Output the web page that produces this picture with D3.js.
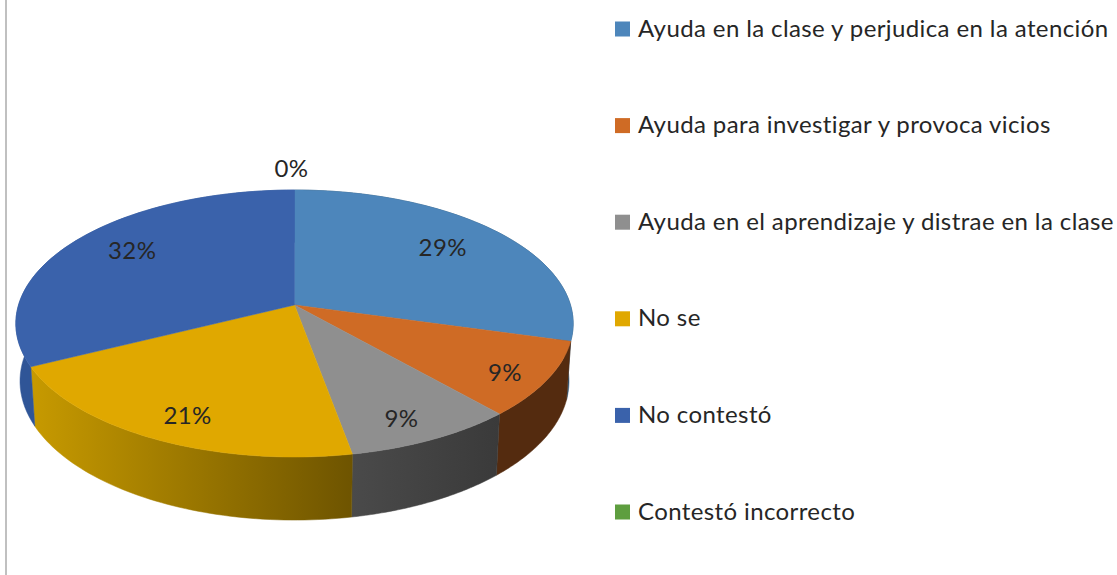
<!DOCTYPE html>
<html><head><meta charset="utf-8">
<script src="https://cdn.jsdelivr.net/npm/d3@7"></script>
<style>html,body{margin:0;padding:0;background:#fff;overflow:hidden}text{font-family:Lato,"Open Sans",sans-serif;fill:#262626;letter-spacing:.39px}</style>
</head><body><svg id="c" width="1117" height="575"></svg>
<script>
const categories=["Ayuda en la clase y perjudica en la atención","Ayuda para investigar y provoca vicios","Ayuda en el aprendizaje y distrae en la clase","No se","No contestó","Contestó incorrecto"];
const values=[29.3,9.1,8.7,20.6,32.3,0];
const colors=["#4D86BB","#CF6B25","#8F8F8F","#E0A800","#3A62AB","#5E9E3F"];
const sideFrom=["#2E5270","#542B0F","#4A4A4A","#C79A00","#2F5597","#39602A"];
const sideTo=["#2E5270","#542B0F","#3A3A3A","#6E5400","#2F5597","#39602A"];
// label placement: radial fraction and pixel nudge
const labelR=[.7,.85,.82,.82,.72,1.2];
const labelDx=[3,-2,-4,6,-2,-3], labelDy=[-6,4,5,3,-8,-3];

const svg=d3.select("#c");
const cx=294.5,a=276,k=-0.1386;
const topRim={d:305,b:88.67,a:a}, botRim={d:361.9,b:86.1,a:a*.985};
function proj(p,th,r=1){const u=r*Math.sin(th),v=-r*Math.cos(th),den=1+k*v;return [cx+p.a*u/den,(p.d+p.b*v)/den];}
const pie=d3.pie().sort(null).value(d=>d)(values);
const line=d3.line();
const samples=(s)=>d3.range(0,61).map(i=>s.startAngle+(s.endAngle-s.startAngle)*i/60);

svg.append("line").attr("x1",6).attr("x2",6).attr("y1",0).attr("y2",575).attr("stroke","#ababab").attr("stroke-width",1.5);

const defs=svg.append("defs");
pie.forEach((s,i)=>{
  if(s.endAngle-s.startAngle<=0) return;
  const xs=samples(s).map(t=>proj(topRim,t)[0]);
  const g=defs.append("linearGradient").attr("id","g"+i).attr("gradientUnits","userSpaceOnUse")
    .attr("x1",d3.min(xs)).attr("x2",d3.max(xs)).attr("y1",0).attr("y2",0);
  g.append("stop").attr("offset",0).attr("stop-color",sideFrom[i]);
  g.append("stop").attr("offset",1).attr("stop-color",sideTo[i]);
  const ts=samples(s);
  const pts=ts.map(t=>proj(topRim,t)).concat(ts.slice().reverse().map(t=>proj(botRim,t)));
  svg.append("path").attr("d",line(pts)+"Z").attr("fill","url(#g"+i+")").attr("stroke","url(#g"+i+")").attr("stroke-width",.5);
});
pie.forEach((s,i)=>{
  if(s.endAngle-s.startAngle<=0) return;
  const pts=[proj(topRim,s.startAngle,0)].concat(samples(s).map(t=>proj(topRim,t)));
  svg.append("path").attr("d",line(pts)+"Z").attr("fill",colors[i]).attr("stroke",colors[i]).attr("stroke-width",.5);
});
const total=d3.sum(values);
pie.forEach((s,i)=>{
  const p=proj(topRim,(s.startAngle+s.endAngle)/2,labelR[i]);
  svg.append("text").attr("x",p[0]+labelDx[i]).attr("y",p[1]+labelDy[i]).attr("text-anchor","middle").attr("dominant-baseline","central")
   .attr("font-size",24).text(Math.round(values[i]/total*100)+"%");
});
const rowY=d3.scalePoint().domain(categories).range([29,512]);
categories.forEach((c,i)=>{
  const y=rowY(c);
  svg.append("rect").attr("x",615).attr("y",y-7.5).attr("width",15).attr("height",15).attr("fill",colors[i]);
  svg.append("text").attr("x",638).attr("y",y+7.5).attr("font-size",24).text(c);
});
</script></body></html>
